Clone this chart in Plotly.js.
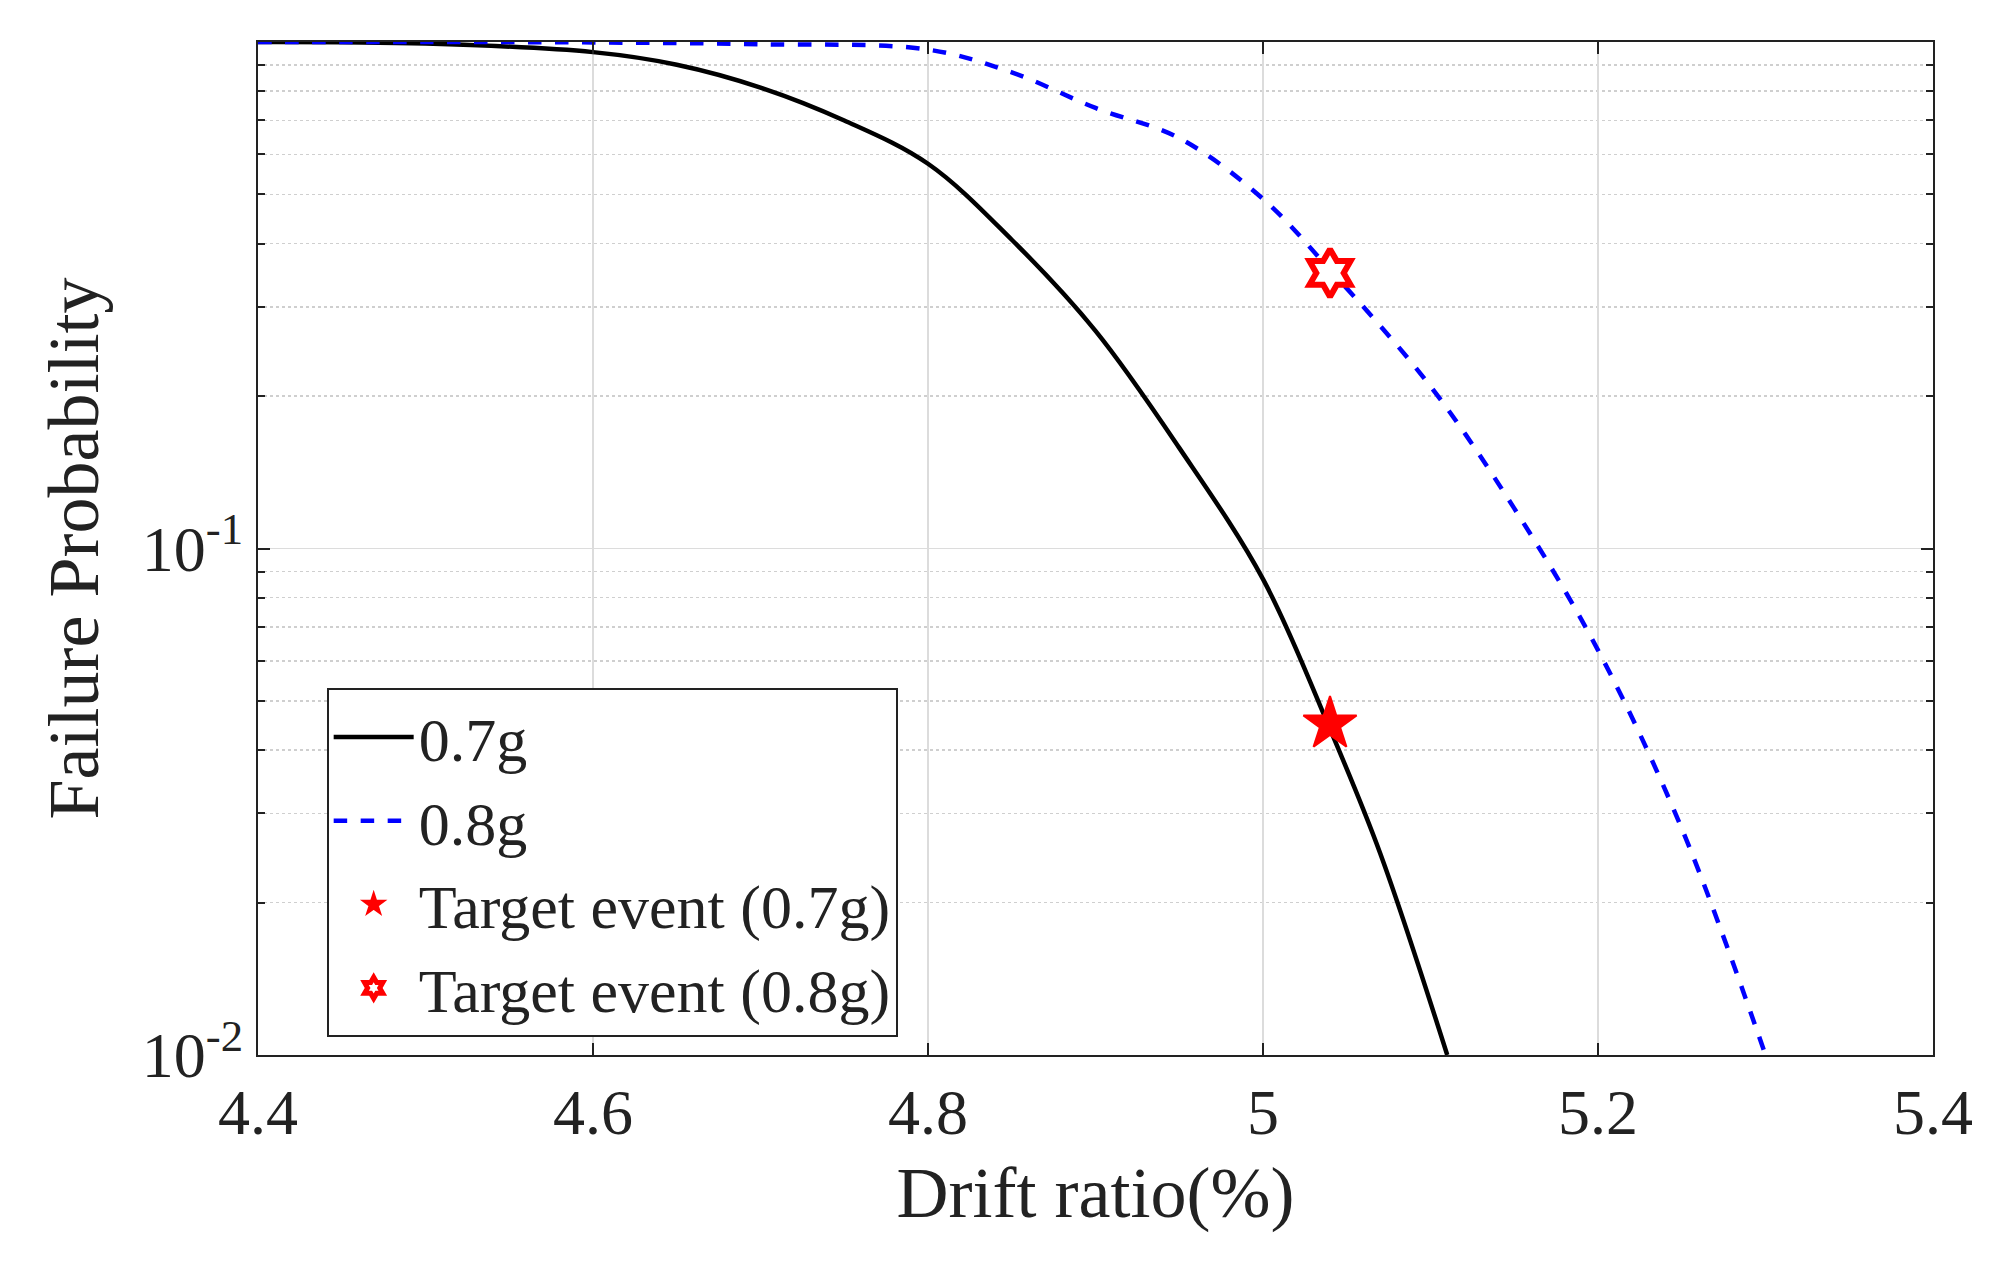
<!DOCTYPE html>
<html><head><script src="https://cdn.plot.ly/plotly-3.0.1.min.js"></script>
<style>body{margin:0;background:#fff}</style></head><body>
<div id="c" style="width:1989px;height:1270px"></div>
<script>
const x07 = [4.4, 4.5, 4.6, 4.65, 4.7, 4.75, 4.8, 4.85, 4.9, 4.95, 5.0, 5.04, 5.07, 5.11];
const y07 = [1.0, 0.993, 0.955, 0.902, 0.813, 0.70, 0.575, 0.407, 0.269, 0.158, 0.087, 0.044, 0.025, 0.01];
const x08 = [4.4, 4.5, 4.6, 4.7, 4.8, 4.85, 4.9, 4.95, 5.0, 5.04, 5.1, 5.15, 5.2, 5.25, 5.3];
const y08 = [1.0, 1.0, 0.998, 0.99, 0.966, 0.871, 0.741, 0.646, 0.49, 0.355, 0.209, 0.120, 0.063, 0.028, 0.01];
const targetX = [5.04], target07 = [0.045], target08 = [0.35];
const font = {family:'Liberation Serif, Times New Roman, serif', color:'#222'};
const minorVals = [];
[0.01,0.1].forEach(d=>{for(let k=2;k<=9;k++)minorVals.push(d*k);});
Plotly.newPlot('c',[
 {x:x07,y:y07,mode:'lines',name:'0.7g',line:{color:'black',width:4.5,shape:'spline'}},
 {x:x08,y:y08,mode:'lines',name:'0.8g',line:{color:'#0000ff',width:4.5,dash:'dash',shape:'spline'}},
 {x:targetX,y:target07,mode:'markers',name:'Target event (0.7g)',marker:{symbol:'star',size:40,color:'red',line:{color:'red',width:2}}},
 {x:targetX,y:target08,mode:'markers',name:'Target event (0.8g)',marker:{symbol:'hexagram',size:36,color:'white',line:{color:'red',width:6}}}
],{
 width:1989,height:1270,margin:{l:258,r:56,t:42,b:215},
 paper_bgcolor:'white',plot_bgcolor:'white',font:Object.assign({size:64},font),
 showlegend:true,
 legend:{x:0.041,y:0.362,xanchor:'left',yanchor:'top',bgcolor:'white',bordercolor:'#222',borderwidth:2,font:Object.assign({size:62},font),tracegroupgap:0,itemwidth:80},
 xaxis:{range:[4.4,5.4],dtick:0.2,tick0:4.4,tickformat:'~g',showgrid:true,gridcolor:'#dcdcdc',gridwidth:1.5,
   showline:true,mirror:'ticks',linecolor:'#222',linewidth:2,ticks:'inside',ticklen:12,tickwidth:2,tickcolor:'#222',
   zeroline:false,title:{text:'Drift ratio(%)',font:Object.assign({size:72},font),standoff:20}},
 yaxis:{type:'log',range:[-2,0],tickvals:[0.01,0.1,1],ticktext:['10<sup>-2</sup>','10<sup>-1</sup>','10<sup>0</sup>'],
   showgrid:true,gridcolor:'#dcdcdc',gridwidth:1.5,showline:true,mirror:'ticks',linecolor:'#222',linewidth:2,
   ticks:'inside',ticklen:12,tickwidth:2,tickcolor:'#222',zeroline:false,
   minor:{tickvals:minorVals,ticks:'inside',ticklen:7,tickcolor:'#222',showgrid:true,gridcolor:'#cfcfcf',griddash:'dot',gridwidth:1.5},
   title:{text:'Failure Probability',font:Object.assign({size:72},font),standoff:20}}
},{staticPlot:true});
</script></body></html>
